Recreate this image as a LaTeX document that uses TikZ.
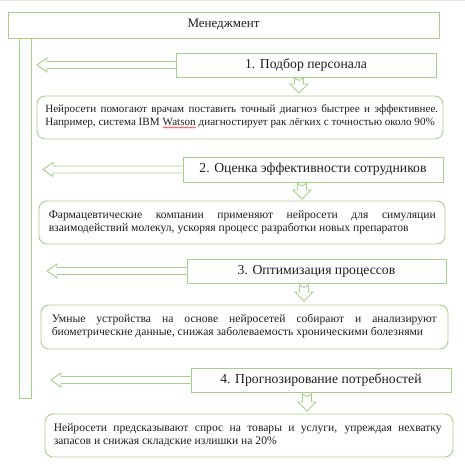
\documentclass[tikz,border=0pt]{standalone}
\usepackage{fontspec}
\setmainfont{Liberation Serif}
\usetikzlibrary{calc,decorations.pathmorphing}
\definecolor{gr}{RGB}{165,208,135}
\definecolor{txt}{RGB}{30,30,30}
\tikzset{
  gline/.style={draw=gr, line width=0.9pt},
  topbox/.style={gline, fill=white, rectangle, minimum width=431pt, minimum height=26pt, inner sep=0pt, font=\fontsize{13}{15}\selectfont, text=txt},
  headbox/.style={gline, fill=white, rectangle, minimum width=260pt, minimum height=24pt, inner sep=0pt, font=\fontsize{13.7}{15}\selectfont, text=txt},
  bodybox/.style={gline, rounded corners=8pt, rectangle, inner sep=0pt, minimum height=43pt},
  bodytext/.style={inner sep=0pt, anchor=north west, align=justify, font=\fontsize{11.6}{13}\selectfont, text=txt},
  blockarrow/.style={gline, fill=white, line join=miter},
  barbox/.style={gline, rectangle, inner sep=0pt, minimum width=11.5pt, minimum height=360pt},
  spellwave/.style={draw=red, line width=0.4pt, decorate, decoration={snake, amplitude=0.6pt, segment length=2.5pt}},
}
\newcommand\leftblock[2]{%
  \draw[blockarrow] ($(#1.west)+(0,-3.5)$) -- ($(#2)+(10,-3.5)$) -- ($(#2)+(10,-7)$) -- (#2) -- ($(#2)+(10,7)$) -- ($(#2)+(10,3.5)$) -- ($(#1.west)+(0,3.5)$);}
\newcommand\downblock[2]{%
  \draw[blockarrow] ($(#1)+(-4.5,0)$) -- ($(#2)+(-4.5,-9)$) -- ($(#2)+(-9,-9)$) -- (#2) -- ($(#2)+(9,-9)$) -- ($(#2)+(4.5,-9)$) -- ($(#1)+(4.5,0)$) -- ($(#1)+(0,2.5)$) -- cycle;}
\newcommand\spellmark[1]{\tikz[baseline=(w.base), x=1pt, y=1pt]{\node[inner sep=0pt, outer sep=0pt, text width={}, align=left, anchor=base] (w) {#1}; \draw[spellwave] ($(w.base west)+(0,-1.8)$) -- ($(w.base east)+(0,-1.8)$);}}
\begin{document}
\begin{tikzpicture}[x=1pt,y=-1pt]
\useasboundingbox (0,0) rectangle (465,468);
\fill[white] (0,0) rectangle (465,468);
\draw[gray!20, line width=1pt] (0,1) -- (465,1);

\node[barbox] (bar) at (25.25,218) {};
\node[topbox] (top) at (223.5,25) {Менеджмент};

\node[headbox] (h1) at (306,65) {1. Подбор персонала};
\node[headbox, minimum height=25pt] (h2) at (313,169.5) {2. Оценка эффективности сотрудников};
\node[headbox, minimum width=259pt] (h3) at (316.5,271) {3. Оптимизация процессов};
\node[headbox] (h4) at (321,380) {4. Прогнозирование потребностей};

\node[bodybox, minimum width=406pt] (b1) at (240,117.5) {};
\node[bodybox, minimum width=406pt] (b2) at (242,222.5) {};
\node[bodybox, minimum width=407pt, minimum height=44pt] (b3) at (244.5,327) {};
\node[bodybox, minimum width=408pt] (b4) at (249,435.5) {};

\node[bodytext, text width=393pt, font=\fontsize{11.1}{13}\selectfont] (t1) at ($(b1.north west)+(8.5,9)$) {Нейросети помогают врачам поставить точный диагноз быстрее и эффективнее.\linebreak Например, система IBM \spellmark{Watson} диагностирует рак лёгких с точностью около 90\%};
\node[bodytext, text width=387pt] (t2) at ($(b2.north west)+(10,9.5)$) {Фармацевтические компании применяют нейросети для симуляции\linebreak взаимодействий молекул, ускоряя процесс разработки новых препаратов};
\node[bodytext, text width=385pt] (t3) at ($(b3.north west)+(11,9.5)$) {Умные устройства на основе нейросетей собирают и анализируют\linebreak биометрические данные, снижая заболеваемость хроническими болезнями};
\node[bodytext, text width=388pt] (t4) at ($(b4.north west)+(9,10)$) {Нейросети предсказывают спрос на товары и услуги, упреждая нехватку\linebreak запасов и снижая складские излишки на 20\%};

\coordinate (l1) at (37,65);
\coordinate (l2) at (43,169.5);
\coordinate (l3) at (47,271);
\coordinate (l4) at (51,380);
\leftblock{h1}{l1}
\leftblock{h2}{l2}
\leftblock{h3}{l3}
\leftblock{h4}{l4}

\coordinate (d1a) at (299,78);   \coordinate (d1b) at (299,93);
\coordinate (d2a) at (302,183.5); \coordinate (d2b) at (302,199);
\coordinate (d3a) at (304,285);  \coordinate (d3b) at (304,301);
\coordinate (d4a) at (307,394);  \coordinate (d4b) at (307,411);
\downblock{d1a}{d1b}
\downblock{d2a}{d2b}
\downblock{d3a}{d3b}
\downblock{d4a}{d4b}
\end{tikzpicture}
\end{document}
